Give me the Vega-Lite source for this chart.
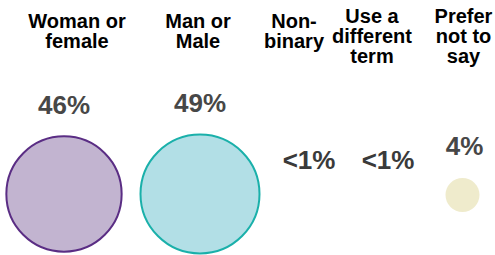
{
  "$schema": "https://vega.github.io/schema/vega-lite/v6.json",
  "padding": 0,
  "spacing": 0,
  "bounds": "flush",
  "config": {"view": {"stroke": null}, "concat": {"spacing": 0}},
  "data": {"values": [
    {"cat": "Woman or female", "title": "Woman or\nfemale", "pct": 46, "label": "46%"},
    {"cat": "Man or Male", "title": "Man or\nMale", "pct": 49, "label": "49%"},
    {"cat": "Non-binary", "title": "Non-\nbinary", "pct": 0.1, "label": "<1%"},
    {"cat": "Use a different term", "title": "Use a\ndifferent\nterm", "pct": 0.1, "label": "<1%"},
    {"cat": "Prefer not to say", "title": "Prefer\nnot to\nsay", "pct": 4, "label": "4%"}
  ]},
  "hconcat": [
    {
      "width": 128, "height": 255,
      "transform": [{"filter": "datum.cat === 'Woman or female'"}],
      "encoding": {"x": {"field": "cat", "type": "nominal", "axis": null}},
      "layer": [
        {"mark": {"type": "text", "dx": 13, "baseline": "top", "lineBreak": "\n", "lineHeight": 20, "font": "Liberation Sans", "fontWeight": "bold", "fontSize": 20, "color": "#000000"},
         "encoding": {"y": {"value": 12}, "text": {"field": "title"}}},
        {"mark": {"type": "text", "baseline": "alphabetic", "font": "Liberation Sans", "fontWeight": "bold", "fontSize": 26, "color": "#474747"},
         "encoding": {"y": {"field": "pct", "type": "quantitative", "axis": null, "scale": {"type": "sqrt", "domain": [0, 49], "range": [172, 112]}}, "text": {"field": "label"}}},
        {"mark": {"type": "point", "shape": "circle", "filled": true, "strokeWidth": 2, "opacity": 1},
         "encoding": {"y": {"value": 194},
           "size": {"field": "pct", "type": "quantitative", "legend": null, "scale": {"domain": [0, 49], "range": [0, 14161]}},
           "fill": {"field": "cat", "type": "nominal", "legend": null, "scale": {"domain": ["Woman or female", "Man or Male", "Non-binary", "Use a different term", "Prefer not to say"], "range": ["#c2b4d0", "#b2dfe6", "#ffffff", "#ffffff", "#efebcc"]}},
           "stroke": {"field": "cat", "type": "nominal", "legend": null, "scale": {"domain": ["Woman or female", "Man or Male", "Non-binary", "Use a different term", "Prefer not to say"], "range": ["#5a2d84", "#1ab0aa", "#ffffff", "#ffffff", "#efebcc"]}}}}
      ]
    },
    {
      "width": 144, "height": 255,
      "transform": [{"filter": "datum.cat === 'Man or Male'"}],
      "encoding": {"x": {"field": "cat", "type": "nominal", "axis": null}},
      "layer": [
        {"mark": {"type": "text", "dx": -2, "baseline": "top", "lineBreak": "\n", "lineHeight": 20, "font": "Liberation Sans", "fontWeight": "bold", "fontSize": 20, "color": "#000000"},
         "encoding": {"y": {"value": 12}, "text": {"field": "title"}}},
        {"mark": {"type": "text", "baseline": "alphabetic", "font": "Liberation Sans", "fontWeight": "bold", "fontSize": 26, "color": "#474747"},
         "encoding": {"y": {"field": "pct", "type": "quantitative", "axis": null, "scale": {"type": "sqrt", "domain": [0, 49], "range": [172, 112]}}, "text": {"field": "label"}}},
        {"mark": {"type": "point", "shape": "circle", "filled": true, "strokeWidth": 2, "opacity": 1},
         "encoding": {"y": {"value": 194},
           "size": {"field": "pct", "type": "quantitative", "legend": null, "scale": {"domain": [0, 49], "range": [0, 14161]}},
           "fill": {"field": "cat", "type": "nominal", "legend": null, "scale": {"domain": ["Woman or female", "Man or Male", "Non-binary", "Use a different term", "Prefer not to say"], "range": ["#c2b4d0", "#b2dfe6", "#ffffff", "#ffffff", "#efebcc"]}},
           "stroke": {"field": "cat", "type": "nominal", "legend": null, "scale": {"domain": ["Woman or female", "Man or Male", "Non-binary", "Use a different term", "Prefer not to say"], "range": ["#5a2d84", "#1ab0aa", "#ffffff", "#ffffff", "#efebcc"]}}}}
      ]
    },
    {
      "width": 74, "height": 255,
      "transform": [{"filter": "datum.cat === 'Non-binary'"}],
      "encoding": {"x": {"field": "cat", "type": "nominal", "axis": null}},
      "layer": [
        {"mark": {"type": "text", "dx": -15, "baseline": "top", "lineBreak": "\n", "lineHeight": 20, "font": "Liberation Sans", "fontWeight": "bold", "fontSize": 20, "color": "#000000"},
         "encoding": {"y": {"value": 12}, "text": {"field": "title"}}},
        {"mark": {"type": "text", "baseline": "alphabetic", "font": "Liberation Sans", "fontWeight": "bold", "fontSize": 26, "color": "#3a3a3a"},
         "encoding": {"y": {"field": "pct", "type": "quantitative", "axis": null, "scale": {"type": "sqrt", "domain": [0, 49], "range": [172, 112]}}, "text": {"field": "label"}}}
      ]
    },
    {
      "width": 84, "height": 255,
      "transform": [{"filter": "datum.cat === 'Use a different term'"}],
      "encoding": {"x": {"field": "cat", "type": "nominal", "axis": null}},
      "layer": [
        {"mark": {"type": "text", "dx": -16, "baseline": "top", "lineBreak": "\n", "lineHeight": 20, "font": "Liberation Sans", "fontWeight": "bold", "fontSize": 20, "color": "#000000"},
         "encoding": {"y": {"value": 7}, "text": {"field": "title"}}},
        {"mark": {"type": "text", "baseline": "alphabetic", "font": "Liberation Sans", "fontWeight": "bold", "fontSize": 26, "color": "#3a3a3a"},
         "encoding": {"y": {"field": "pct", "type": "quantitative", "axis": null, "scale": {"type": "sqrt", "domain": [0, 49], "range": [172, 112]}}, "text": {"field": "label"}}}
      ]
    },
    {
      "width": 65, "height": 255,
      "transform": [{"filter": "datum.cat === 'Prefer not to say'"}],
      "encoding": {"x": {"field": "cat", "type": "nominal", "axis": null}},
      "layer": [
        {"mark": {"type": "text", "dx": 1, "baseline": "top", "lineBreak": "\n", "lineHeight": 20, "font": "Liberation Sans", "fontWeight": "bold", "fontSize": 20, "color": "#000000"},
         "encoding": {"y": {"value": 7}, "text": {"field": "title"}}},
        {"mark": {"type": "text", "dx": 2, "baseline": "alphabetic", "font": "Liberation Sans", "fontWeight": "bold", "fontSize": 26, "color": "#474747"},
         "encoding": {"y": {"field": "pct", "type": "quantitative", "axis": null, "scale": {"type": "sqrt", "domain": [0, 49], "range": [172, 112]}}, "text": {"field": "label"}}},
        {"mark": {"type": "point", "shape": "circle", "filled": true, "strokeWidth": 0, "opacity": 1, "dx": 2},
         "encoding": {"y": {"value": 195},
           "size": {"field": "pct", "type": "quantitative", "legend": null, "scale": {"domain": [0, 49], "range": [0, 14161]}},
           "fill": {"field": "cat", "type": "nominal", "legend": null, "scale": {"domain": ["Woman or female", "Man or Male", "Non-binary", "Use a different term", "Prefer not to say"], "range": ["#c2b4d0", "#b2dfe6", "#ffffff", "#ffffff", "#efebcc"]}}}}
      ]
    }
  ]
}
